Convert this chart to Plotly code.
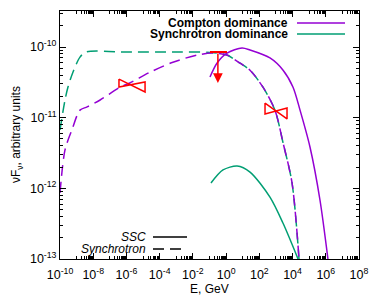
import math
import plotly.graph_objects as go

# ---------------- data ----------------
# Synchrotron component, "Synchrotron dominance" case (green dashed)
sync_sd_E = [1e-10, 2e-10, 3e-10, 6e-10, 1.6e-9, 3.7e-9, 1e-6, 1e-3, 0.107, 1.13, 6.9, 27.5, 166, 871, 2690, 9330, 24500]
sync_sd_F = [6.7e-12, 1.78e-11, 2.7e-11, 4.4e-11, 7.2e-11, 8.5e-11, 8.5e-11, 8.5e-11, 8.4e-11, 7.7e-11, 5.9e-11, 4.7e-11, 2.7e-11, 1.28e-11, 4.4e-12, 1.19e-12, 1e-13]

# Synchrotron component, "Compton dominance" case (purple dashed)
sync_cd_E = [1e-10, 2e-10, 5.2e-10, 1.6e-9, 4.3e-9, 2.6e-8, 4.1e-7, 1.6e-6, 2.6e-5, 6.3e-4, 0.0178, 0.14, 1.13, 6.9, 27.5, 166, 871, 2690, 9330, 24500]
sync_cd_F = [8.6e-13, 3.5e-12, 6.7e-12, 1.28e-11, 1.42e-11, 1.78e-11, 2.7e-11, 3.1e-11, 4.4e-11, 6.1e-11, 7.7e-11, 8.2e-11, 7.7e-11, 5.9e-11, 4.7e-11, 2.7e-11, 1.28e-11, 4.4e-12, 1.19e-12, 1e-13]

# SSC component, "Compton dominance" (purple solid)
ssc_cd_E = [0.107, 0.28, 1.13, 9.1, 27.5, 437, 2690, 10700, 28200, 1.12e5, 4.47e5, 1.35e6]
ssc_cd_F = [3.76e-11, 5.9e-11, 8.2e-11, 9.7e-11, 9.1e-11, 7.0e-11, 4.7e-11, 2.7e-11, 1.28e-11, 3.85e-12, 6.84e-13, 1e-13]

# SSC component, "Synchrotron dominance" (green solid)
ssc_sd_E = [0.123, 0.65, 4.6, 27.5, 437, 2690, 21400]
ssc_sd_F = [1.19e-12, 1.82e-12, 2.07e-12, 1.70e-12, 7.5e-13, 3.2e-13, 1e-13]

# Observational bow-ties (closed outlines)
bow1_E = [3.55e-7, 1.32e-5, 1.32e-5, 3.55e-7, 3.55e-7]
bow1_F = [3.52e-11, 2.31e-11, 3.2e-11, 2.72e-11, 3.52e-11]
bow2_E = [220, 4650, 4650, 220, 220]
bow2_F = [1.61e-11, 9.6e-12, 1.37e-11, 1.13e-11, 1.61e-11]

# Upper limit
ul_E_lo, ul_E_hi, ul_E = 0.107, 1.13, 0.32
ul_F, ul_F_tip = 8.5e-11, 3.1e-11

# Axis ticks
x_major = [10.0 ** k for k in range(-10, 9, 2)]
x_major_text = ["10<sup>%d</sup>" % k for k in range(-10, 9, 2)]
x_minor = [m * 10.0 ** (k + 1) for k in range(-10, 8, 2) for m in range(1, 10)]
y_major = [1e-13, 1e-12, 1e-11, 1e-10]
y_major_text = ["10<sup>-13</sup>", "10<sup>-12</sup>", "10<sup>-11</sup>", "10<sup>-10</sup>"]
y_minor = [m * 10.0 ** k for k in range(-13, -9) for m in range(2, 10)]

# ---------------- styles ----------------
PURPLE = "#9400D3"
GREEN = "#009E73"
RED = "#FF0000"
DASH = "11px,6px"
FONT = "Liberation Sans, Arial, Helvetica, sans-serif"

fig = go.Figure()

def add_line(E, F, color, dash=None, shape="spline", width=1.5):
    fig.add_trace(go.Scatter(
        x=E, y=F, mode="lines",
        line=dict(color=color, width=width, dash=dash, shape=shape, smoothing=0.8),
        showlegend=False, hoverinfo="skip"))

add_line(sync_sd_E, sync_sd_F, GREEN, DASH)
add_line(sync_cd_E, sync_cd_F, PURPLE, DASH)
add_line(ssc_cd_E, ssc_cd_F, PURPLE)
add_line(ssc_sd_E, ssc_sd_F, GREEN)
add_line(bow1_E, bow1_F, RED, shape="linear")
add_line(bow2_E, bow2_F, RED, shape="linear")
add_line([ul_E_lo, ul_E_hi], [ul_F, ul_F], RED, shape="linear", width=2)

fig.add_annotation(
    x=math.log10(ul_E), y=math.log10(ul_F_tip),
    ax=math.log10(ul_E), ay=math.log10(ul_F),
    xref="x", yref="y", axref="x", ayref="y",
    showarrow=True, arrowhead=2, arrowsize=1.3, arrowwidth=1.5,
    arrowcolor=RED, standoff=0, text="")

# ---------------- legends ----------------
# the page body adds an 8 px offset; plot area spans x 60..359, y 11..259 in the window
def paper_x(px):
    return (px - 60) / 299.0

def paper_y(py):
    return (259 - py) / 248.0

legend_rows = [("<b>Compton dominance</b>", PURPLE, 23), ("<b>Synchrotron dominance</b>", GREEN, 34)]
for txt, col, py in legend_rows:
    fig.add_annotation(x=paper_x(290), y=paper_y(py), xref="paper", yref="paper",
                       text=txt, showarrow=False, xanchor="right", yanchor="middle",
                       font=dict(size=12, color="black", family=FONT))
    fig.add_shape(type="line", xref="paper", yref="paper",
                  x0=paper_x(297), x1=paper_x(345), y0=paper_y(py), y1=paper_y(py),
                  line=dict(color=col, width=1.5))

style_rows = [("<i>SSC</i>", None, 237, 187), ("<i>Synchrotron</i>", DASH, 249, 183)]
for txt, dash, py, x_end in style_rows:
    fig.add_annotation(x=paper_x(148), y=paper_y(py), xref="paper", yref="paper",
                       text=txt, showarrow=False, xanchor="right", yanchor="middle",
                       font=dict(size=12, color="black", family=FONT))
    fig.add_shape(type="line", xref="paper", yref="paper",
                  x0=paper_x(153), x1=paper_x(x_end), y0=paper_y(py), y1=paper_y(py),
                  line=dict(color="black", width=1.5, dash=dash))

# axis titles
fig.add_annotation(x=paper_x(17), y=0.5, xref="paper", yref="paper",
                   text="νF<sub>ν</sub>, arbitrary units", textangle=-90,
                   showarrow=False, xanchor="center", yanchor="middle",
                   font=dict(size=12, color="black", family=FONT))
fig.add_annotation(x=paper_x(209), y=paper_y(289), xref="paper", yref="paper",
                   text="E, GeV", showarrow=False, xanchor="center", yanchor="middle",
                   font=dict(size=12, color="black", family=FONT))

axis_common = dict(
    showgrid=False, zeroline=False, showline=True, linecolor="black", linewidth=1,
    mirror="ticks", ticks="inside", ticklen=6, tickwidth=1, tickcolor="black",
    tickmode="array", tickfont=dict(size=12.5, color="black", family=FONT),
)

fig.update_xaxes(type="log", range=[-10, 8], tickvals=x_major, ticktext=x_major_text,
                 ticklabelstandoff=4,
                 minor=dict(tickvals=x_minor, ticks="inside", ticklen=3, tickcolor="black"),
                 **axis_common)
fig.update_yaxes(type="log", range=[-13, -9.49], tickvals=y_major, ticktext=y_major_text,
                 minor=dict(tickvals=y_minor, ticks="inside", ticklen=3, tickcolor="black"),
                 **axis_common)

fig.update_layout(
    width=373, height=291,
    margin=dict(l=52, r=22, t=3, b=40),
    paper_bgcolor="white", plot_bgcolor="white",
    font=dict(family=FONT, size=12, color="black"),
    showlegend=False,
)

fig.write_html("out.html")
